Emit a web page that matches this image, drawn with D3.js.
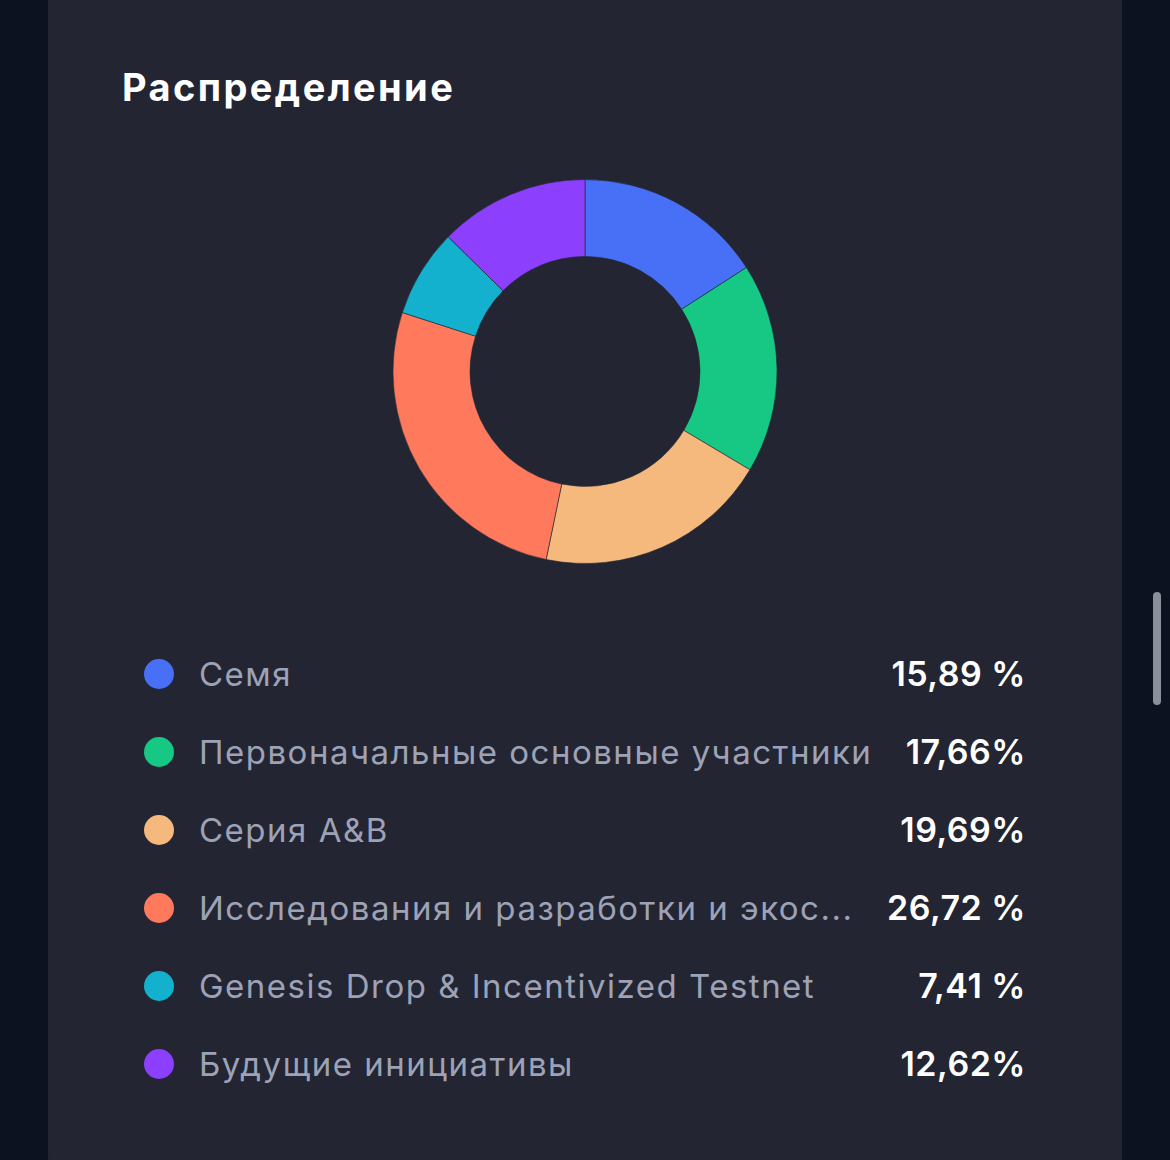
<!DOCTYPE html>
<html>
<head>
<meta charset="utf-8">
<script src="https://cdn.jsdelivr.net/npm/d3@7"></script>
<style>
  html, body { margin: 0; padding: 0; background: #0c1220; }
  svg { display: block; }
</style>
</head>
<body>
<svg id="chart" width="1170" height="1160"></svg>
<script>
// data
const categories = [
  "Семя",
  "Первоначальные основные участники",
  "Серия A&B",
  "Исследования и разработки и экосистема",
  "Genesis Drop & Incentivized Testnet",
  "Будущие инициативы"
];
const shares = [15.89, 17.66, 19.69, 26.72, 7.41, 12.62];
const shareLabels = ["15,89 %", "17,66%", "19,69%", "26,72 %", "7,41 %", "12,62%"];
const colors = ["#4870f6", "#17c784", "#f5b97e", "#ff7a5d", "#13b1cd", "#8c3ffd"];

const svg = d3.select("#chart");
const font = "Inter, 'Noto Sans', sans-serif";

// card
svg.append("rect")
  .attr("x", 48).attr("y", -20)
  .attr("width", 1074).attr("height", 1198)
  .attr("rx", 22)
  .attr("fill", "#232532");

// scrollbar thumb
svg.append("rect")
  .attr("x", 1153).attr("y", 592)
  .attr("width", 8).attr("height", 113)
  .attr("rx", 4)
  .attr("fill", "#8b8f9a");

svg.append("text")
  .attr("x", 122).attr("y", 101)
  .attr("fill", "#ffffff")
  .attr("font-family", font)
  .attr("font-weight", 700)
  .attr("font-size", 38)
  .attr("letter-spacing", 2.4)
  .text("Распределение");

// donut
const cx = 585, cy = 371.5;
const pie = d3.pie().sort(null).value(d => d);
const arc = d3.arc().innerRadius(115).outerRadius(192);
const color = d3.scaleOrdinal().domain(categories).range(colors);

svg.append("g")
  .attr("transform", `translate(${cx},${cy})`)
  .selectAll("path")
  .data(pie(shares))
  .join("path")
  .attr("d", arc)
  .attr("fill", (d, i) => color(categories[i]))
  .attr("stroke", "#232532")
  .attr("stroke-width", 0.6);

// legend
const y = d3.scalePoint().domain(categories).range([674, 1064]);
const rows = svg.append("g").selectAll("g")
  .data(categories)
  .join("g")
  .attr("transform", d => `translate(0,${y(d)})`);

rows.append("circle")
  .attr("cx", 159).attr("cy", 0).attr("r", 15)
  .attr("fill", d => color(d));

const valRight = 1026;
const vals = rows.append("text")
  .attr("x", valRight).attr("y", 12)
  .attr("text-anchor", "end")
  .attr("fill", "#ffffff")
  .attr("font-family", font)
  .attr("font-weight", 600)
  .attr("font-size", 34)
  .attr("letter-spacing", 0.5)
  .text((d, i) => shareLabels[i]);

rows.append("text")
  .attr("x", 199).attr("y", 12)
  .attr("fill", "#9da2b6")
  .attr("font-family", font)
  .attr("font-size", 33)
  .attr("letter-spacing", 1.5)
  .text(d => d)
  .each(function (d, i) {
    // cut the label with an ellipsis when it runs into the value
    const valLeft = valRight - vals.nodes()[i].getComputedTextLength();
    const maxW = valLeft - 28 - 199;
    const el = d3.select(this);
    if (this.getComputedTextLength() <= maxW) return;
    let s = d;
    while (s.length > 1) {
      s = s.slice(0, -1);
      el.text(s.trimEnd() + "...");
      if (this.getComputedTextLength() <= maxW) break;
    }
  });
</script>
</body>
</html>
